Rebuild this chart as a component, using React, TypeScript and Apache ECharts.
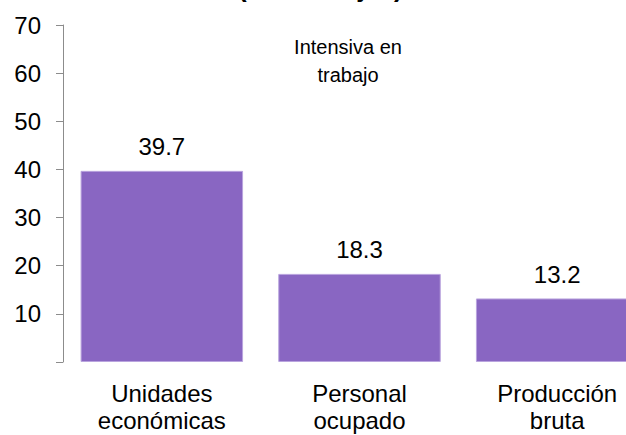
import React, { useEffect, useRef } from "react";
import * as echarts from "echarts";

const categories = ["Unidades\neconómicas", "Personal\nocupado", "Producción\nbruta"];
const values = [39.7, 18.3, 13.2];
const yTicks = [10, 20, 30, 40, 50, 60, 70];
const titleText = "(Porcentajes)";
const noteText = "Intensiva en\ntrabajo";

export default function App() {
  const ref = useRef<HTMLDivElement>(null);
  useEffect(() => {
    if (!ref.current) return;
    const chart = echarts.init(ref.current, null, { renderer: "svg" });
    const font = "Liberation Sans, Arial, sans-serif";
    chart.setOption({
      animation: false,
      backgroundColor: "#ffffff",
      textStyle: { fontFamily: font },
      graphic: [
        {
          type: "text",
          left: 238,
          top: -25.5,
          style: { text: titleText, font: `bold 26px ${font}`, fill: "#000" },
        },
        {
          type: "text",
          x: 348,
          y: 33,
          style: {
            text: noteText,
            fontSize: 20,
            fontFamily: font,
            lineHeight: 28,
            fill: "#000",
            align: "center",
            verticalAlign: "top",
          },
        },
      ],
      grid: { left: 63, top: 25, width: 593, height: 337, containLabel: false },
      xAxis: {
        type: "category",
        data: categories,
        axisLine: { show: false },
        axisTick: { show: false },
        axisLabel: {
          color: "#000",
          fontSize: 24,
          lineHeight: 27,
          margin: 18,
          fontFamily: font,
          interval: 0,
        },
      },
      yAxis: {
        type: "value",
        min: 0,
        max: 70,
        interval: 10,
        splitLine: { show: false },
        axisLine: { show: true, lineStyle: { color: "#8c8c8c", width: 1 } },
        axisTick: { show: true, length: 7, lineStyle: { color: "#8c8c8c" } },
        axisLabel: {
          color: "#000",
          fontSize: 24,
          margin: 22,
          fontFamily: font,
          formatter: (v: number) => (yTicks.includes(v) ? String(v) : ""),
        },
      },
      series: [
        {
          type: "bar",
          data: values,
          barCategoryGap: "17.8%",
          itemStyle: { color: "#8966c2", borderColor: "#b9a4de", borderWidth: 1 },
          label: {
            show: true,
            position: "top",
            distance: 12,
            color: "#000",
            fontSize: 24,
            fontFamily: font,
            formatter: (p: any) => p.value.toFixed(1),
          },
        },
      ],
    });
    return () => chart.dispose();
  }, []);
  return (
    <div style={{ width: 626, height: 435, position: "absolute", left: 0, top: 0, overflow: "hidden" }}>
      <div ref={ref} style={{ width: 690, height: 435 }} />
    </div>
  );
}
